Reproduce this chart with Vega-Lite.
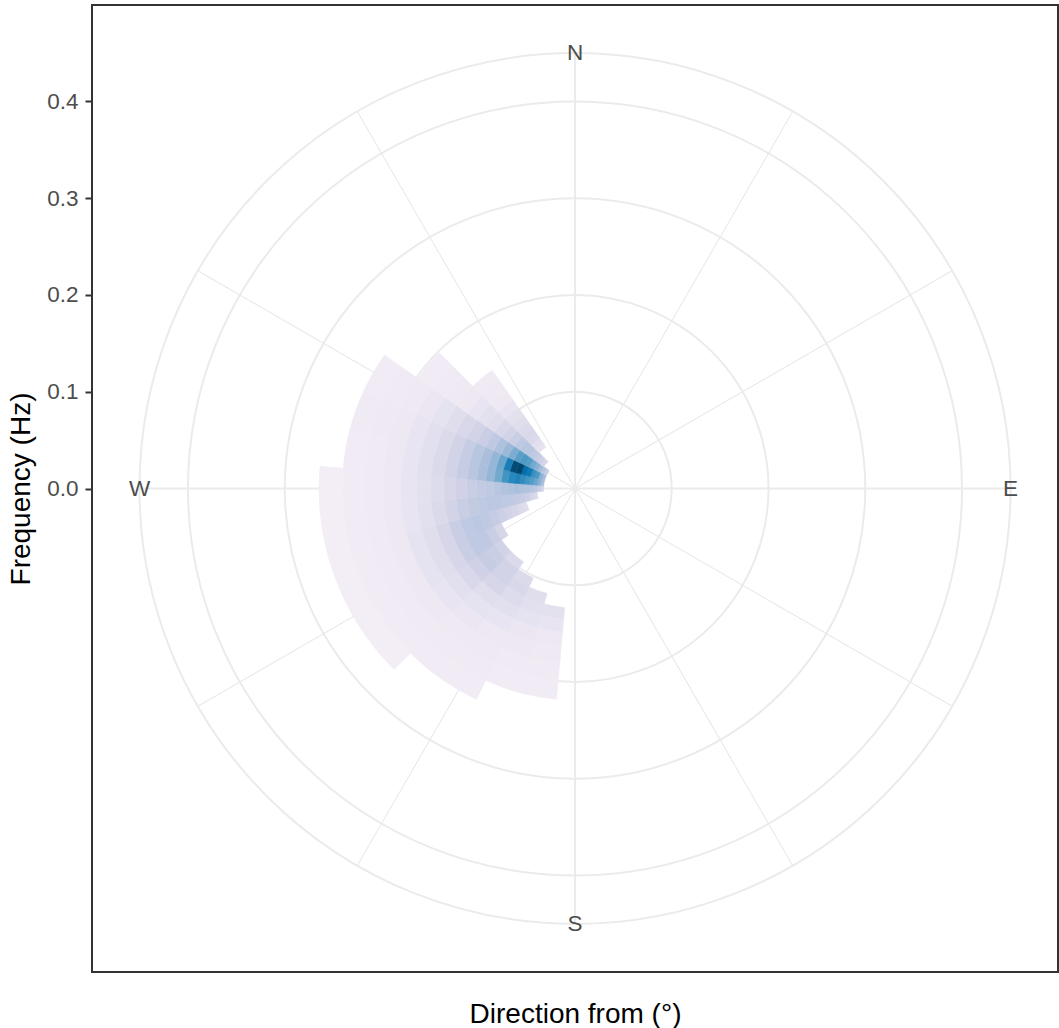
{
  "$schema": "https://vega.github.io/schema/vega-lite/v6.json",
  "width": 966,
  "height": 967,
  "autosize": {"type": "none"},
  "padding": {"left": 92, "top": 5, "right": 1, "bottom": 56},
  "config": {
    "font": "Liberation Sans",
    "view": {"stroke": "#333333", "strokeWidth": 2},
    "axis": {"labelFont": "Liberation Sans", "titleFont": "Liberation Sans", "titleFontWeight": "normal"}
  },
  "datasets": {
    "cells": [
      {"dir":190,"k":14,"v":0.16},{"dir":190,"k":15,"v":0.14},{"dir":190,"k":16,"v":0.12},{"dir":190,"k":17,"v":0.11},{"dir":190,"k":18,"v":0.1},{"dir":190,"k":19,"v":0.09},
      {"dir":200,"k":13,"v":0.18},{"dir":200,"k":14,"v":0.17},{"dir":200,"k":15,"v":0.15},{"dir":200,"k":16,"v":0.13},{"dir":200,"k":17,"v":0.12},{"dir":200,"k":18,"v":0.1},{"dir":200,"k":19,"v":0.09},
      {"dir":210,"k":12,"v":0.2},{"dir":210,"k":13,"v":0.21},{"dir":210,"k":14,"v":0.19},{"dir":210,"k":15,"v":0.17},{"dir":210,"k":16,"v":0.14},{"dir":210,"k":17,"v":0.12},{"dir":210,"k":18,"v":0.11},{"dir":210,"k":19,"v":0.1},{"dir":210,"k":20,"v":0.09},
      {"dir":220,"k":11,"v":0.2},{"dir":220,"k":12,"v":0.24},{"dir":220,"k":13,"v":0.24},{"dir":220,"k":14,"v":0.22},{"dir":220,"k":15,"v":0.18},{"dir":220,"k":16,"v":0.15},{"dir":220,"k":17,"v":0.13},{"dir":220,"k":18,"v":0.11},{"dir":220,"k":19,"v":0.1},{"dir":220,"k":20,"v":0.09},
      {"dir":230,"k":11,"v":0.24},{"dir":230,"k":12,"v":0.27},{"dir":230,"k":13,"v":0.28},{"dir":230,"k":14,"v":0.25},{"dir":230,"k":15,"v":0.21},{"dir":230,"k":16,"v":0.17},{"dir":230,"k":17,"v":0.14},{"dir":230,"k":18,"v":0.12},{"dir":230,"k":19,"v":0.1},{"dir":230,"k":20,"v":0.09},{"dir":230,"k":21,"v":0.08},
      {"dir":240,"k":10,"v":0.22},{"dir":240,"k":11,"v":0.27},{"dir":240,"k":12,"v":0.3},{"dir":240,"k":13,"v":0.3},{"dir":240,"k":14,"v":0.27},{"dir":240,"k":15,"v":0.22},{"dir":240,"k":16,"v":0.18},{"dir":240,"k":17,"v":0.15},{"dir":240,"k":18,"v":0.12},{"dir":240,"k":19,"v":0.1},{"dir":240,"k":20,"v":0.09},{"dir":240,"k":21,"v":0.08},
      {"dir":250,"k":5,"v":0.18},{"dir":250,"k":6,"v":0.2},{"dir":250,"k":7,"v":0.22},{"dir":250,"k":8,"v":0.24},{"dir":250,"k":9,"v":0.26},{"dir":250,"k":10,"v":0.28},{"dir":250,"k":11,"v":0.3},{"dir":250,"k":12,"v":0.31},{"dir":250,"k":13,"v":0.3},{"dir":250,"k":14,"v":0.27},{"dir":250,"k":15,"v":0.22},{"dir":250,"k":16,"v":0.18},{"dir":250,"k":17,"v":0.15},{"dir":250,"k":18,"v":0.12},{"dir":250,"k":19,"v":0.1},{"dir":250,"k":20,"v":0.09},{"dir":250,"k":21,"v":0.08},
      {"dir":260,"k":2,"v":0.2},{"dir":260,"k":3,"v":0.23},{"dir":260,"k":4,"v":0.26},{"dir":260,"k":5,"v":0.28},{"dir":260,"k":6,"v":0.29},{"dir":260,"k":7,"v":0.3},{"dir":260,"k":8,"v":0.3},{"dir":260,"k":9,"v":0.31},{"dir":260,"k":10,"v":0.31},{"dir":260,"k":11,"v":0.3},{"dir":260,"k":12,"v":0.29},{"dir":260,"k":13,"v":0.27},{"dir":260,"k":14,"v":0.24},{"dir":260,"k":15,"v":0.2},{"dir":260,"k":16,"v":0.17},{"dir":260,"k":17,"v":0.14},{"dir":260,"k":18,"v":0.12},{"dir":260,"k":19,"v":0.1},{"dir":260,"k":20,"v":0.09},{"dir":260,"k":21,"v":0.08},
      {"dir":270,"k":0,"v":0.24},{"dir":270,"k":1,"v":0.28},{"dir":270,"k":2,"v":0.31},{"dir":270,"k":3,"v":0.33},{"dir":270,"k":4,"v":0.34},{"dir":270,"k":5,"v":0.35},{"dir":270,"k":6,"v":0.36},{"dir":270,"k":7,"v":0.35},{"dir":270,"k":8,"v":0.34},{"dir":270,"k":9,"v":0.32},{"dir":270,"k":10,"v":0.3},{"dir":270,"k":11,"v":0.29},{"dir":270,"k":12,"v":0.27},{"dir":270,"k":13,"v":0.25},{"dir":270,"k":14,"v":0.22},{"dir":270,"k":15,"v":0.19},{"dir":270,"k":16,"v":0.16},{"dir":270,"k":17,"v":0.14},{"dir":270,"k":18,"v":0.12},{"dir":270,"k":19,"v":0.1},{"dir":270,"k":20,"v":0.09},{"dir":270,"k":21,"v":0.08},
      {"dir":280,"k":0,"v":0.36},{"dir":280,"k":1,"v":0.45},{"dir":280,"k":2,"v":0.52},{"dir":280,"k":3,"v":0.57},{"dir":280,"k":4,"v":0.6},{"dir":280,"k":5,"v":0.64},{"dir":280,"k":6,"v":0.68},{"dir":280,"k":7,"v":0.66},{"dir":280,"k":8,"v":0.6},{"dir":280,"k":9,"v":0.5},{"dir":280,"k":10,"v":0.42},{"dir":280,"k":11,"v":0.36},{"dir":280,"k":12,"v":0.32},{"dir":280,"k":13,"v":0.28},{"dir":280,"k":14,"v":0.24},{"dir":280,"k":15,"v":0.2},{"dir":280,"k":16,"v":0.17},{"dir":280,"k":17,"v":0.14},{"dir":280,"k":18,"v":0.12},{"dir":280,"k":19,"v":0.1},{"dir":280,"k":20,"v":0.09},
      {"dir":290,"k":0,"v":0.38},{"dir":290,"k":1,"v":0.45},{"dir":290,"k":2,"v":0.58},{"dir":290,"k":3,"v":0.62},{"dir":290,"k":4,"v":0.72},{"dir":290,"k":5,"v":0.76},{"dir":290,"k":6,"v":0.95},{"dir":290,"k":7,"v":0.93},{"dir":290,"k":8,"v":0.7},{"dir":290,"k":9,"v":0.52},{"dir":290,"k":10,"v":0.42},{"dir":290,"k":11,"v":0.36},{"dir":290,"k":12,"v":0.32},{"dir":290,"k":13,"v":0.28},{"dir":290,"k":14,"v":0.24},{"dir":290,"k":15,"v":0.2},{"dir":290,"k":16,"v":0.17},{"dir":290,"k":17,"v":0.14},{"dir":290,"k":18,"v":0.12},{"dir":290,"k":19,"v":0.11},{"dir":290,"k":20,"v":0.1},
      {"dir":300,"k":0,"v":0.28},{"dir":300,"k":1,"v":0.32},{"dir":300,"k":2,"v":0.38},{"dir":300,"k":3,"v":0.45},{"dir":300,"k":4,"v":0.5},{"dir":300,"k":5,"v":0.56},{"dir":300,"k":6,"v":0.58},{"dir":300,"k":7,"v":0.55},{"dir":300,"k":8,"v":0.48},{"dir":300,"k":9,"v":0.4},{"dir":300,"k":10,"v":0.35},{"dir":300,"k":11,"v":0.3},{"dir":300,"k":12,"v":0.27},{"dir":300,"k":13,"v":0.24},{"dir":300,"k":14,"v":0.21},{"dir":300,"k":15,"v":0.18},{"dir":300,"k":16,"v":0.15},{"dir":300,"k":17,"v":0.13},{"dir":300,"k":18,"v":0.11},{"dir":300,"k":19,"v":0.1},{"dir":300,"k":20,"v":0.09},
      {"dir":310,"k":2,"v":0.22},{"dir":310,"k":3,"v":0.25},{"dir":310,"k":4,"v":0.28},{"dir":310,"k":5,"v":0.3},{"dir":310,"k":6,"v":0.32},{"dir":310,"k":7,"v":0.32},{"dir":310,"k":8,"v":0.3},{"dir":310,"k":9,"v":0.27},{"dir":310,"k":10,"v":0.24},{"dir":310,"k":11,"v":0.21},{"dir":310,"k":12,"v":0.18},{"dir":310,"k":13,"v":0.16},{"dir":310,"k":14,"v":0.14},{"dir":310,"k":15,"v":0.12},{"dir":310,"k":16,"v":0.11},{"dir":310,"k":17,"v":0.1},{"dir":310,"k":18,"v":0.09},
      {"dir":320,"k":5,"v":0.15},{"dir":320,"k":6,"v":0.17},{"dir":320,"k":7,"v":0.2},{"dir":320,"k":8,"v":0.21},{"dir":320,"k":9,"v":0.2},{"dir":320,"k":10,"v":0.18},{"dir":320,"k":11,"v":0.16},{"dir":320,"k":12,"v":0.14},{"dir":320,"k":13,"v":0.12},{"dir":320,"k":14,"v":0.11},{"dir":320,"k":15,"v":0.1}
    ],
    "fbins": [
      {"k":0,"f0":0.0325,"f1":0.03575},{"k":1,"f0":0.03575,"f1":0.03933},{"k":2,"f0":0.03933,"f1":0.04326},{"k":3,"f0":0.04326,"f1":0.04758},
      {"k":4,"f0":0.04758,"f1":0.05234},{"k":5,"f0":0.05234,"f1":0.05758},{"k":6,"f0":0.05758,"f1":0.06333},{"k":7,"f0":0.06333,"f1":0.06967},
      {"k":8,"f0":0.06967,"f1":0.07663},{"k":9,"f0":0.07663,"f1":0.0843},{"k":10,"f0":0.0843,"f1":0.09273},{"k":11,"f0":0.09273,"f1":0.102},
      {"k":12,"f0":0.102,"f1":0.1122},{"k":13,"f0":0.1122,"f1":0.12342},{"k":14,"f0":0.12342,"f1":0.13576},{"k":15,"f0":0.13576,"f1":0.14934},
      {"k":16,"f0":0.14934,"f1":0.16427},{"k":17,"f0":0.16427,"f1":0.1807},{"k":18,"f0":0.1807,"f1":0.19877},{"k":19,"f0":0.19877,"f1":0.21865},
      {"k":20,"f0":0.21865,"f1":0.24051},{"k":21,"f0":0.24051,"f1":0.26456}
    ],
    "dbins": [
      {"dir":190,"d0":185,"d1":195},{"dir":200,"d0":195,"d1":205},{"dir":210,"d0":205,"d1":215},{"dir":220,"d0":215,"d1":225},
      {"dir":230,"d0":225,"d1":235},{"dir":240,"d0":235,"d1":245},{"dir":250,"d0":245,"d1":255},{"dir":260,"d0":255,"d1":265},
      {"dir":270,"d0":265,"d1":275},{"dir":280,"d0":275,"d1":285},{"dir":290,"d0":285,"d1":295},{"dir":300,"d0":295,"d1":305},
      {"dir":310,"d0":305,"d1":315},{"dir":320,"d0":315,"d1":325}
    ]
  },
  "layer": [
    {
      "data": {"values": [{"r": 0.1}, {"r": 0.2}, {"r": 0.3}, {"r": 0.4}, {"r": 0.45}]},
      "mark": {"type": "arc", "filled": false, "stroke": "#ebebeb", "strokeWidth": 2},
      "encoding": {
        "theta": {"datum": 0, "type": "quantitative", "scale": {"type": "linear", "domain": [0, 360], "range": [0, 6.283185307179586]}},
        "theta2": {"datum": 360},
        "radius": {"field": "r", "type": "quantitative", "scale": {"type": "linear", "zero": true, "nice": false, "domain": [0, 0.45], "range": [0, 435.4]}},
        "radius2": {"datum": 0}
      }
    },
    {
      "data": {"values": [{"a": 30}, {"a": 60}, {"a": 120}, {"a": 150}, {"a": 210}, {"a": 240}, {"a": 300}, {"a": 330}]},
      "mark": {"type": "arc", "filled": false, "stroke": "#ebebeb", "strokeWidth": 1},
      "encoding": {
        "theta": {"field": "a", "type": "quantitative", "stack": null},
        "theta2": {"field": "a"},
        "radius": {"datum": 0.45, "type": "quantitative"},
        "radius2": {"datum": 0}
      }
    },
    {
      "data": {"values": [{"a": 0}, {"a": 90}, {"a": 180}, {"a": 270}]},
      "mark": {"type": "arc", "filled": false, "stroke": "#ebebeb", "strokeWidth": 2},
      "encoding": {
        "theta": {"field": "a", "type": "quantitative", "stack": null},
        "theta2": {"field": "a"},
        "radius": {"datum": 0.45, "type": "quantitative"},
        "radius2": {"datum": 0}
      }
    },
    {
      "data": {"name": "cells"},
      "transform": [
        {"lookup": "k", "from": {"data": {"name": "fbins"}, "key": "k", "fields": ["f0", "f1"]}},
        {"lookup": "dir", "from": {"data": {"name": "dbins"}, "key": "dir", "fields": ["d0", "d1"]}}
      ],
      "mark": {"type": "arc", "strokeWidth": 0.6, "opacity": 1, "fillOpacity": 1, "strokeOpacity": 1},
      "encoding": {
        "theta": {"field": "d0", "type": "quantitative", "stack": null},
        "theta2": {"field": "d1"},
        "radius": {"field": "f1", "type": "quantitative"},
        "radius2": {"field": "f0"},
        "fill": {"field": "v", "type": "quantitative", "scale": {"type": "linear", "domain": [0, 0.125, 0.25, 0.375, 0.5, 0.625, 0.75, 0.875, 1], "range": ["#fff7fb", "#ece7f2", "#d0d1e6", "#a6bddb", "#74a9cf", "#3690c0", "#0570b0", "#045a8d", "#023858"], "interpolate": "rgb"}, "legend": null},
        "stroke": {"field": "v", "type": "quantitative", "scale": {"type": "linear", "domain": [0, 0.125, 0.25, 0.375, 0.5, 0.625, 0.75, 0.875, 1], "range": ["#fff7fb", "#ece7f2", "#d0d1e6", "#a6bddb", "#74a9cf", "#3690c0", "#0570b0", "#045a8d", "#023858"], "interpolate": "rgb"}, "legend": null}
      }
    },
    {
      "data": {"values": [{"a": 0, "t": "N"}, {"a": 90, "t": "E"}, {"a": 180, "t": "S"}, {"a": 270, "t": "W"}]},
      "mark": {"type": "text", "fontSize": 22.5, "color": "#4d4d4d", "align": "center", "baseline": "middle", "font": "Liberation Sans"},
      "encoding": {
        "theta": {"field": "a", "type": "quantitative", "stack": null},
        "radius": {"datum": 0.45, "type": "quantitative"},
        "text": {"field": "t"}
      }
    },
    {
      "data": {"values": [{"y": 0}, {"y": 0.4}]},
      "mark": {"type": "point", "opacity": 0},
      "encoding": {
        "y": {
          "field": "y", "type": "quantitative",
          "scale": {"domain": [-0.4997, 0.4997], "nice": false, "zero": false},
          "axis": {
            "values": [0, 0.1, 0.2, 0.3, 0.4], "format": ".1f", "grid": false, "domain": false,
            "tickSize": 7, "tickWidth": 2, "tickColor": "#333333",
            "labelFontSize": 22.5, "labelColor": "#4d4d4d", "labelPadding": 7,
            "title": "Frequency (Hz)", "titleFontSize": 28, "titleColor": "#000000",
            "titleX": -63, "titleY": 483.5, "titleAngle": -90, "titleAlign": "center", "titleBaseline": "alphabetic"
          }
        },
        "x": {
          "field": "y", "type": "quantitative",
          "scale": {"domain": [-1, 1]},
          "axis": {
            "labels": false, "ticks": false, "domain": false, "grid": false,
            "title": "Direction from (°)", "titleFontSize": 28, "titleColor": "#000000",
            "titleX": 483, "titleY": 50, "titleAlign": "center", "titleBaseline": "alphabetic"
          }
        }
      }
    }
  ]
}
